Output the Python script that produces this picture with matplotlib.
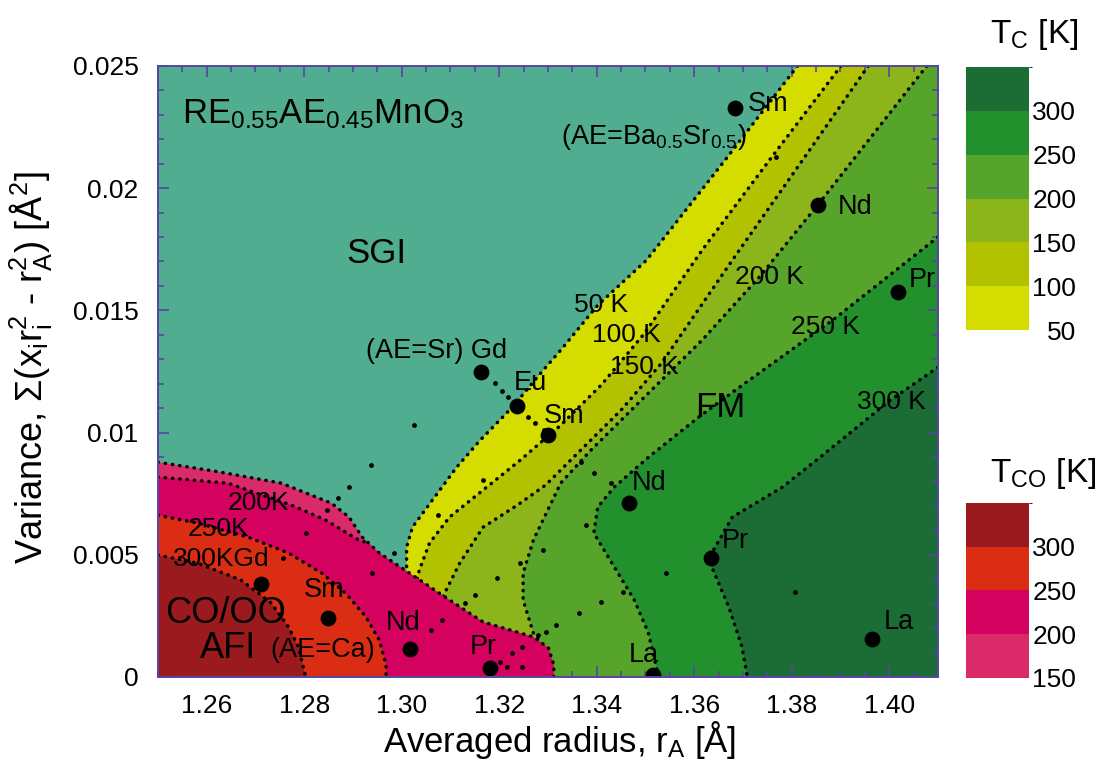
import numpy as np
import matplotlib
matplotlib.use("Agg")
import matplotlib.pyplot as plt
from matplotlib.colors import ListedColormap, BoundaryNorm
from matplotlib.cm import ScalarMappable

plt.rcParams['font.family'] = ['Liberation Sans', 'DejaVu Sans']
plt.rcParams['mathtext.fontset'] = 'custom'
plt.rcParams['mathtext.rm'] = 'Liberation Sans'
plt.rcParams['mathtext.it'] = 'Liberation Sans'
plt.rcParams['mathtext.bf'] = 'Liberation Sans'
plt.rcParams['mathtext.default'] = 'regular'

X_MIN, X_MAX = 1.25, 1.41
Y_MIN, Y_MAX = 0.0, 0.025

# ---------------- Tc (ferromagnetic) contour lines -----------------
tc50_x = [1.3812, 1.3663, 1.3502, 1.3402, 1.3326, 1.3285, 1.3227, 1.3161, 1.3113, 1.3063, 1.3022, 1.3010, 1.3010]
tc50_y = [0.0250, 0.02114, 0.01705, 0.01521, 0.01337, 0.01243, 0.01104, 0.00969, 0.00859, 0.00724, 0.00613, 0.00531, 0.00429]
tc100_x = [1.3901, 1.3754, 1.3616, 1.3498, 1.3409, 1.3326, 1.3243, 1.3167, 1.3098, 1.3057, 1.3036, 1.3030]
tc100_y = [0.0250, 0.02114, 0.01746, 0.01406, 0.01194, 0.01030, 0.00887, 0.00765, 0.00654, 0.00548, 0.00437, 0.00388]
tc150_x = [1.3957, 1.3822, 1.3678, 1.3533, 1.3450, 1.3367, 1.3295, 1.3237, 1.3167, 1.3119, 1.3084]
tc150_y = [0.0250, 0.02114, 0.01705, 0.01284, 0.01092, 0.00928, 0.00785, 0.00703, 0.00613, 0.00466, 0.00327]
tc200_x = [1.4077, 1.3853, 1.3733, 1.3616, 1.3491, 1.3388, 1.3326, 1.3270, 1.3249, 1.3249, 1.3270, 1.3290]
tc200_y = [0.0250, 0.0193, 0.01635, 0.01378, 0.01132, 0.00928, 0.00793, 0.00560, 0.00425, 0.00315, 0.00180, 0.00125]
tc250_x = [1.4100, 1.3884, 1.3684, 1.3609, 1.3506, 1.3436, 1.3402, 1.3394, 1.3436, 1.3477, 1.3506, 1.3527]
tc250_y = [0.0180, 0.0146, 0.01173, 0.01063, 0.00899, 0.00777, 0.00695, 0.00589, 0.00450, 0.00315, 0.00180, 0.0]
tc300_x = [1.4100, 1.4002, 1.3858, 1.3781, 1.3678, 1.3636, 1.3636, 1.3671, 1.3698, 1.3709]
tc300_y = [0.01267, 0.01132, 0.00899, 0.00777, 0.00654, 0.00507, 0.00450, 0.00286, 0.00123, 0.0]

# ---------------- Tco (charge-order) contour lines -----------------
co150_x = [1.2500, 1.2617, 1.2753, 1.2856, 1.2892, 1.2919, 1.2954, 1.3016, 1.3098, 1.3167, 1.3270, 1.3301, 1.3312, 1.3312]
co150_y = [0.00879, 0.00842, 0.00793, 0.00711, 0.00654, 0.00572, 0.00507, 0.00425, 0.00315, 0.00225, 0.00164, 0.00119, 0.00049, 0.0]
co200_x = [1.2500, 1.2643, 1.2774, 1.2844, 1.2912, 1.2932]
co200_y = [0.00818, 0.00793, 0.00703, 0.00642, 0.00560, 0.00548]
co250_x = [1.2500, 1.2581, 1.2685, 1.2768, 1.2836, 1.2885, 1.2927, 1.2954, 1.2968, 1.2968]
co250_y = [0.00662, 0.00630, 0.00572, 0.00507, 0.00425, 0.00343, 0.00245, 0.00151, 0.00049, 0.0]
co300_x = [1.2500, 1.2581, 1.2670, 1.2732, 1.2768, 1.2788, 1.2803]
co300_y = [0.00499, 0.00466, 0.00397, 0.00303, 0.00204, 0.00123, 0.0]

# ---------------- samples -----------------
big_names = ['Gd', 'Sm', 'Nd', 'Pr',
             'Gd', 'Eu', 'Sm', 'Nd', 'Pr', 'La',
             'Sm', 'Nd', 'Pr', 'La']
big_x = [1.2712, 1.2848, 1.3016, 1.3181,
         1.3163, 1.3237, 1.3301, 1.3467, 1.3634, 1.3516,
         1.3684, 1.3853, 1.4019, 1.3965]
big_y = [0.00380, 0.00241, 0.00114, 0.00037,
         0.01247, 0.01108, 0.00989, 0.00711, 0.00487, 0.00010,
         0.02330, 0.01930, 0.01574, 0.00155]

small_x = [1.2937, 1.2892, 1.2869, 1.2846, 1.2803, 1.2757, 1.2985, 1.2939, 1.3061, 1.3082,
           1.3202, 1.3227, 1.3247, 1.3216, 1.3247, 1.3074, 1.3196, 1.3150, 1.3129, 1.3289,
           1.3243, 1.3316, 1.3280, 1.3295, 1.3026, 1.3167, 1.3367, 1.3378, 1.3454, 1.3543,
           1.3409, 1.3363, 1.3767, 1.3806, 1.3192, 1.3206, 1.3218, 1.3260, 1.3274, 1.3291,
           1.3394, 1.3429]
small_y = [0.00867, 0.00777, 0.00732, 0.00683, 0.00589, 0.00487, 0.00507, 0.00425, 0.00192, 0.00233,
           0.00061, 0.00098, 0.00123, 0.00041, 0.00041, 0.00662, 0.00405, 0.00335, 0.00303, 0.00519,
           0.00466, 0.00213, 0.00172, 0.00184, 0.01030, 0.00805, 0.00879, 0.00621, 0.00348, 0.00425,
           0.00307, 0.00262, 0.02126, 0.00348, 0.01202, 0.01169, 0.01145, 0.01063, 0.01038, 0.01010,
           0.00834, 0.00793]

# ---------------- colour scales -----------------
tc_bounds = [50, 100, 150, 200, 250, 300, 350]
tc_ticks = [50, 100, 150, 200, 250, 300]
tc_colors = ['#d5dc00', '#b2c100', '#8bb51b', '#56a52a', '#21902d', '#1b6d35']
co_bounds = [150, 200, 250, 300, 350]
co_ticks = [150, 200, 250, 300]
co_colors = ['#da2a6a', '#d5015f', '#db2d13', '#9b1a1e']
sgi_color = '#50ad8f'
frame_color = '#5546a0'

x_ticks = [1.26, 1.28, 1.30, 1.32, 1.34, 1.36, 1.38, 1.40]
x_ticklabels = ['1.26', '1.28', '1.30', '1.32', '1.34', '1.36', '1.38', '1.40']
y_ticks = [0, 0.005, 0.01, 0.015, 0.02, 0.025]
y_ticklabels = ['0', '0.005', '0.01', '0.015', '0.02', '0.025']

fig = plt.figure(figsize=(11.01, 7.68), dpi=100)
ax = fig.add_axes([0.1435, 0.1185, 0.7084, 0.7956])
ax.set_xlim(X_MIN, X_MAX)
ax.set_ylim(Y_MIN, Y_MAX)
ax.set_facecolor(sgi_color)

dot_style = dict(color='k', lw=2.5, linestyle=(0, (0.1, 2.0)), dash_capstyle='round')


def fill_tc(xs, ys, color):
    px, py = list(xs), list(ys)
    if py[-1] > 0:
        px.append(px[-1]); py.append(0.0)
    px.append(X_MAX); py.append(0.0)
    if ys[0] >= Y_MAX - 1e-9:
        px.append(X_MAX); py.append(Y_MAX)
    ax.fill(px, py, color=color, lw=0, zorder=1)


tc_lines = [(tc50_x, tc50_y), (tc100_x, tc100_y), (tc150_x, tc150_y),
            (tc200_x, tc200_y), (tc250_x, tc250_y), (tc300_x, tc300_y)]
for (xs, ys), c in zip(tc_lines, tc_colors):
    fill_tc(xs, ys, c)
for xs, ys in tc_lines:
    ax.plot(xs, ys, zorder=2, **dot_style)

co_lines = [(co150_x, co150_y), (co200_x, co200_y), (co250_x, co250_y), (co300_x, co300_y)]
ax.fill(co150_x + [X_MIN], co150_y + [0.0], color=co_colors[0], lw=0, zorder=3)
idx = [i for i, xv in enumerate(co150_x) if xv > co200_x[-1]]
p200_x = co200_x + [co150_x[i] for i in idx] + [X_MIN]
p200_y = co200_y + [co150_y[i] for i in idx] + [0.0]
ax.fill(p200_x, p200_y, color=co_colors[1], lw=0, zorder=3)
ax.fill(co250_x + [X_MIN], co250_y + [0.0], color=co_colors[2], lw=0, zorder=3)
ax.fill(co300_x + [X_MIN], co300_y + [0.0], color=co_colors[3], lw=0, zorder=3)
for xs, ys in co_lines:
    ax.plot(xs, ys, zorder=4, **dot_style)

ax.scatter(small_x, small_y, s=12, color='k', lw=0, zorder=7)
ax.scatter(big_x, big_y, s=130, color='k', lw=0, zorder=8)

fs_small = 19.5
fs_cont = 19
# contour labels
ax.text(1.3409, 0.01521, '50 K', fontsize=fs_cont, ha='center', va='center', zorder=9)
ax.text(1.3460, 0.01398, '100 K', fontsize=fs_cont, ha='center', va='center', zorder=9)
ax.text(1.3498, 0.01267, '150 K', fontsize=fs_cont, ha='center', va='center', zorder=9)
ax.text(1.3754, 0.01635, '200 K', fontsize=fs_cont, ha='center', va='center', zorder=9)
ax.text(1.3870, 0.01431, '250 K', fontsize=fs_cont, ha='center', va='center', zorder=9)
ax.text(1.4004, 0.01124, '300 K', fontsize=fs_cont, ha='center', va='center', zorder=9)
ax.text(1.2705, 0.00711, '200K', fontsize=fs_cont, ha='center', va='center', zorder=9)
ax.text(1.2623, 0.00605, '250K', fontsize=fs_cont, ha='center', va='center', zorder=9)
ax.text(1.2530, 0.00482, '300KGd', fontsize=fs_cont, ha='left', va='center', zorder=9)

# sample labels
ax.text(1.2927, 0.01333, '(AE=Sr) Gd', fontsize=fs_small, ha='left', va='center', zorder=9)
ax.text(1.3229, 0.01202, 'Eu', fontsize=fs_small, ha='left', va='center', zorder=9)
ax.text(1.3291, 0.01067, 'Sm', fontsize=fs_small, ha='left', va='center', zorder=9)
ax.text(1.3471, 0.00793, 'Nd', fontsize=fs_small, ha='left', va='center', zorder=9)
ax.text(1.3657, 0.00556, 'Pr', fontsize=fs_small, ha='left', va='center', zorder=9)
ax.text(1.3465, 0.00090, 'La', fontsize=fs_small, ha='left', va='center', zorder=9)
ax.text(1.3709, 0.02343, 'Sm', fontsize=fs_small, ha='left', va='center', zorder=9)
ax.text(1.3326, 0.02208, r'(AE=Ba$_{0.5}$Sr$_{0.5}$)', fontsize=fs_small, ha='left', va='center', zorder=9)
ax.text(1.3895, 0.01921, 'Nd', fontsize=fs_small, ha='left', va='center', zorder=9)
ax.text(1.4040, 0.01623, 'Pr', fontsize=fs_small, ha='left', va='center', zorder=9)
ax.text(1.3988, 0.00225, 'La', fontsize=fs_small, ha='left', va='center', zorder=9)
ax.text(1.2799, 0.00356, 'Sm', fontsize=fs_small, ha='left', va='center', zorder=9)
ax.text(1.2968, 0.00221, 'Nd', fontsize=fs_small, ha='left', va='center', zorder=9)
ax.text(1.3140, 0.00123, 'Pr', fontsize=fs_small, ha='left', va='center', zorder=9)
ax.text(1.2730, 0.00110, '(AE=Ca)', fontsize=fs_small, ha='left', va='center', zorder=9)

# phase labels
ax.text(1.2550, 0.02265, r'RE$_{0.55}$AE$_{0.45}$MnO$_3$', fontsize=25, ha='left', va='baseline', zorder=9)
ax.text(1.2887, 0.01693, 'SGI', fontsize=25, ha='left', va='baseline', zorder=9)
ax.text(1.3601, 0.01063, 'FM', fontsize=25, ha='left', va='baseline', zorder=9)
ax.text(1.2515, 0.00221, 'CO/OO', fontsize=26, ha='left', va='baseline', zorder=9)
ax.text(1.2586, 0.00078, 'AFI', fontsize=26, ha='left', va='baseline', zorder=9)

# axes styling
ax.set_xticks(x_ticks)
ax.set_xticklabels(x_ticklabels)
ax.set_yticks(y_ticks)
ax.set_yticklabels(y_ticklabels)
ax.set_xticks(np.arange(1.25, 1.4101, 0.005), minor=True)
ax.set_yticks(np.arange(0, 0.02501, 0.001), minor=True)
ax.tick_params(which='both', direction='in', top=True, right=True, color=frame_color, width=1.2,
               labelsize=19)
ax.tick_params(which='major', length=8)
ax.tick_params(which='minor', length=4)
ax.tick_params(axis='x', pad=12)
ax.tick_params(axis='y', pad=14)
for s in ax.spines.values():
    s.set_color(frame_color)
    s.set_linewidth(1.4)
    s.set_zorder(10)

ax.set_xlabel(r'Averaged radius, r$_A$ [Å]', fontsize=25)
ax.set_ylabel(r'Variance, Σ(x$_i$r$_i^2$ - r$_A^2$) [Å$^2$]', fontsize=26)
ax.xaxis.set_label_coords(0.515, -0.069)
ax.yaxis.set_label_coords(-0.133, 0.507)

# colour bars
cax1 = fig.add_axes([0.8774, 0.5703, 0.0572, 0.3424])
cb1 = fig.colorbar(ScalarMappable(norm=BoundaryNorm(tc_bounds, len(tc_colors)),
                                  cmap=ListedColormap(tc_colors)), cax=cax1, ticks=tc_ticks)
cax2 = fig.add_axes([0.8774, 0.1172, 0.0572, 0.2279])
cb2 = fig.colorbar(ScalarMappable(norm=BoundaryNorm(co_bounds, len(co_colors)),
                                  cmap=ListedColormap(co_colors)), cax=cax2, ticks=co_ticks)
for cb, cax in ((cb1, cax1), (cb2, cax2)):
    cb.outline.set_visible(False)
    cax.tick_params(length=0, labelsize=19, pad=34)
    for t in cax.get_yticklabels():
        t.set_horizontalalignment('right')

fig.text(0.899, 0.944, r'T$_C$ [K]', fontsize=24, ha='left', va='baseline')
fig.text(0.899, 0.372, r'T$_{CO}$ [K]', fontsize=24, ha='left', va='baseline')

fig.savefig('out.png', dpi=100)
